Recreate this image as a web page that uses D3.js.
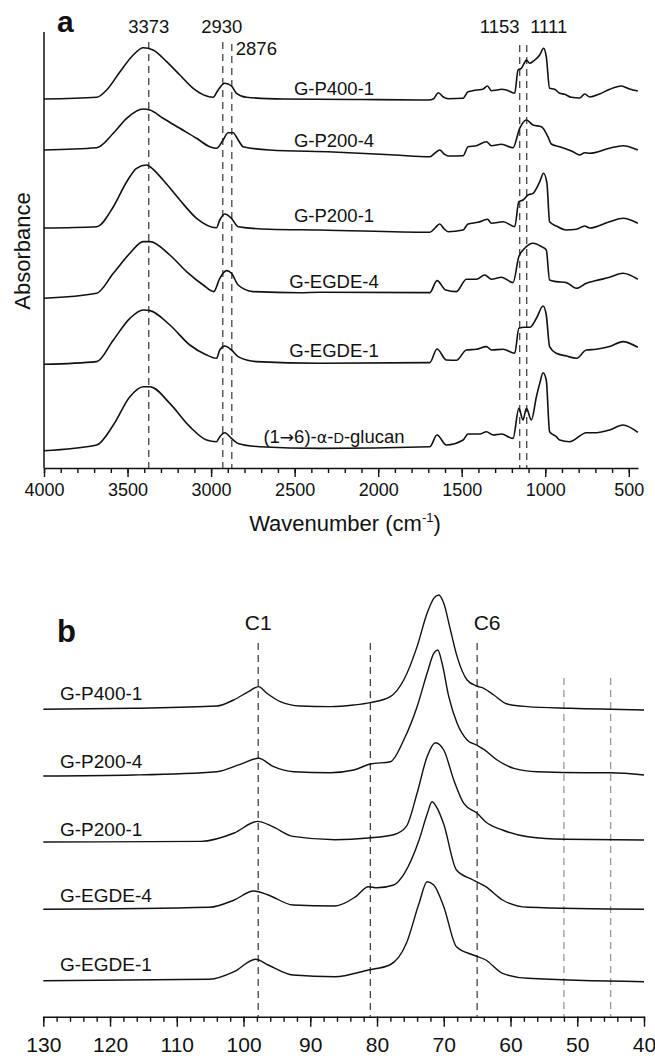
<!DOCTYPE html>
<html><head><meta charset="utf-8">
<script src="https://cdn.jsdelivr.net/npm/d3@7"></script>
<style>
html,body{margin:0;padding:0;background:#fff;}
svg{display:block;font-family:"Liberation Sans",Arial,sans-serif;}
</style></head>
<body>
<svg id="chart" width="655" height="1058"></svg>
<script>
// ---------------- Panel a: FTIR (wavenumber cm-1, absorbance a.u. above each baseline) -------------
const ftirNames = ["G-P400-1","G-P200-4","G-P200-1","G-EGDE-4","G-EGDE-1","glucan"];
const ftirOffsets = [369, 318, 240, 169.7, 103.7, 17.3];
const ftirP400_1 = [[4000,0],[3685,1.7],[3625,9],[3545,27.3],[3466,44],[3406,51.3],[3347,49],[3266,37.3],[3187,24],[3107,10.7],[3027,3],[2988,1.7],[2958,9],[2918,15.7],[2878,13],[2848,5.7],[2788,1.7],[2569,0],[2100,-0.5],[1700,-1],[1670,0],[1640,6.3],[1610,2],[1582,0.3],[1492,0.7],[1462,7.3],[1440,8],[1412,9],[1374,9.7],[1346,13],[1322,8.3],[1290,9],[1262,9.7],[1233,9],[1183,5.7],[1163,29],[1143,30.7],[1125,36],[1113,39],[1093,35.7],[1063,39],[1033,44],[1010,50.7],[994,42.3],[974,10.7],[944,9.7],[914,5.7],[884,4.7],[844,1.7],[794,1],[764,5],[734,2],[675,5],[615,9.7],[545,13],[495,10],[446,8]];
const ftirP200_4 = [[4000,0],[3685,2.3],[3585,16.7],[3505,31.7],[3406,41],[3366,40],[3287,31.7],[3187,21.7],[3087,11.7],[3008,3.3],[2968,1.7],[2928,10],[2898,17.3],[2868,17.3],[2838,10],[2808,3.3],[2650,0],[2270,-2],[1900,-5],[1691,-6.7],[1660,-3],[1632,0],[1605,-4],[1582,-6],[1492,-5.7],[1462,3.3],[1412,4.3],[1352,8.3],[1322,4.3],[1262,5.7],[1193,2.3],[1153,21.7],[1113,30],[1073,25],[1023,23.3],[984,13.3],[964,6],[914,3.3],[834,-1.7],[794,-5],[764,-2.7],[734,-3.3],[615,1.7],[535,4.3],[446,0]];
const ftirP200_1 = [[4000,0],[3685,1.3],[3585,21.3],[3505,46.3],[3446,59.7],[3386,63],[3366,61.3],[3287,48],[3187,28],[3087,9.7],[2968,0.3],[2948,8],[2918,14],[2878,9.7],[2838,1.3],[2650,-1.3],[2349,-2],[1691,-4.3],[1660,0],[1632,4],[1605,-1],[1582,-3.7],[1492,-2],[1462,4],[1402,5.7],[1346,8.7],[1322,4.7],[1252,6.3],[1183,1.3],[1158,26.3],[1133,28],[1103,33],[1073,34.7],[1033,46.3],[1010,54.7],[990,44.7],[974,6.3],[934,2],[874,-2],[814,-1.3],[764,2],[734,0],[615,6.3],[535,9.7],[446,4.7]];
const ftirEGDE_4 = [[4000,0],[3685,5],[3585,25],[3486,45],[3406,56.7],[3366,56.7],[3247,43.3],[3147,26.7],[3047,13.3],[2984,6.7],[2948,20],[2908,27.7],[2878,25],[2838,13.3],[2749,6.7],[2470,5.5],[2349,6],[1691,5.7],[1648,17.7],[1596,8.3],[1532,6.7],[1472,19],[1412,19],[1362,23.3],[1322,19],[1262,21],[1193,15.7],[1158,41.7],[1123,50],[1073,55],[1023,51.7],[994,48.3],[974,18.3],[934,16.7],[874,15.7],[814,10],[754,15],[695,17.7],[615,21],[535,25],[446,19]];
const ftirEGDE_1 = [[4000,0],[3685,2.7],[3585,24.3],[3486,46],[3406,54.3],[3366,53.7],[3247,39.3],[3127,19.3],[3027,9.3],[2968,6],[2948,14.3],[2918,18.3],[2878,14.3],[2838,7.7],[2729,2.7],[2349,1],[1691,1.7],[1648,15.3],[1592,4.3],[1532,4],[1472,14.3],[1412,15],[1352,17.7],[1322,14.3],[1252,15],[1183,11],[1158,36],[1123,37],[1093,37],[1053,46],[1013,58.3],[994,49.3],[974,17.7],[934,11],[874,8.3],[814,6],[754,14.3],[695,15],[615,17.7],[535,22.7],[446,17]];
const ftirGlucan = [[4000,0],[3685,5.7],[3585,25.7],[3486,54],[3406,64],[3366,64],[3247,47.3],[3127,24],[3027,10.7],[2968,9],[2948,14],[2918,18],[2878,12.3],[2838,7.3],[2709,4],[2349,2.3],[1691,4],[1648,15.7],[1592,5.7],[1492,10.7],[1462,16.7],[1392,16.7],[1352,19],[1312,15.7],[1262,16.7],[1193,12.3],[1158,42.3],[1133,30.7],[1113,42.3],[1083,30.7],[1053,54],[1033,67.3],[1013,78],[994,70.7],[974,19],[934,14],[914,10.7],[854,9],[754,18],[695,18],[615,20.7],[535,25.7],[446,18.3]];
const ftirSeries = [ftirP400_1, ftirP200_4, ftirP200_1, ftirEGDE_4, ftirEGDE_1, ftirGlucan];
const ftirBands = [3373, 2930, 2876, 1153, 1111];
const ftirTicks = [4000, 3500, 3000, 2500, 2000, 1500, 1000, 500];

// ---------------- Panel b: 13C NMR (ppm, intensity above each baseline) -------------
const nmrNames = ["G-P400-1","G-P200-4","G-P200-1","G-EGDE-4","G-EGDE-1"];
const nmrOffsets = [308.4, 241.7, 174.7, 107.4, 36];
const nmrP400_1 = [[130,-1],[116.5,0],[104,2.3],[101.5,8.3],[99.25,16.7],[97.75,21.7],[96.5,15],[94.5,6.7],[91.5,2.3],[87,1.7],[83.5,3.3],[81,5.7],[78,11.7],[76,28.3],[74,61.7],[72.5,95],[71.5,110],[70.75,113.3],[70,105],[69,78.3],[68,51.7],[66.5,28.3],[65.1,22.3],[64,20],[62.5,13.3],[60.5,4.3],[57.5,1.7],[51,0],[40,-1.7]];
const nmrP200_4 = [[130,-1],[116.5,0],[104,3.3],[100.5,10.7],[97.75,16.7],[95.5,8.3],[92.5,3.3],[87,2.3],[83.5,5],[81,11],[78,13.3],[76,35],[74,68.3],[72.5,101.7],[71.5,121.7],[70.9,125],[70.25,111.7],[69.25,78.3],[68,51.7],[66.5,35],[65.1,30],[64,25.7],[62,15],[59.5,6.7],[56,3.3],[48.5,2.3],[45,2.3],[40,0]];
const nmrP200_1 = [[130,0],[106.4,0.6],[101.4,9],[97.9,20.6],[95.7,15.6],[92.6,5.6],[86.3,2.3],[81.3,4],[77.5,7.3],[75.6,15.6],[74,48.7],[72.5,85.3],[71.25,99.3],[70,92],[68.5,62],[67,38.7],[65,28.7],[63.7,20],[61.2,12],[57.4,5.3],[51.8,2.7],[40,2]];
const nmrEGDE_4 = [[130,0],[105.1,2],[101.4,9.3],[98.5,18.3],[96.3,14.3],[92.6,4.3],[86.3,3.3],[83.2,12.6],[81.3,22.6],[80,21.5],[77.5,24.3],[75.9,36],[73.7,69.3],[72.5,95],[71.75,107.6],[70.9,100],[70,85],[68.1,39.3],[65.6,29.3],[63.7,22.6],[61.2,9.3],[57.4,2],[40,0]];
const nmrEGDE_1 = [[130,0],[105.1,1.4],[101.4,9],[98.2,21.4],[96.3,15.7],[92.6,5.7],[86.3,4],[81.3,10.7],[78.1,15.7],[75.6,37.4],[73.7,77.4],[72.5,99],[71.5,95.7],[70,74],[68.1,34],[65.6,25.7],[63.7,20.7],[61.2,7.4],[57.4,2.4],[40,-1]];
const nmrSeries = [nmrP400_1, nmrP200_4, nmrP200_1, nmrEGDE_4, nmrEGDE_1];
const nmrMarkers = [97.8, 81, 65, 52, 45];
const nmrMarkerLabels = ["C1", "", "C6", "", ""];
const nmrMarkerGray = [false, false, false, true, true];
const nmrTicks = [130, 120, 110, 100, 90, 80, 70, 60, 50, 40];

// ---------------- drawing -------------
const svg = d3.select("#chart");
const FONT = "Liberation Sans, Arial, sans-serif";

// Panel a scales
const xA = d3.scaleLinear().domain([4000, 445]).range([44, 638]);
const yA = d3.scaleLinear().domain([0, 436]).range([468, 32]);
const gA = svg.append("g");

// band dashed lines
const bandTop = [42, 42, 44, 45, 45];
ftirBands.forEach((b, i) => {
  gA.append("line").attr("x1", xA(b)).attr("x2", xA(b)).attr("y1", bandTop[i]).attr("y2", 468)
    .attr("stroke", "#444").attr("stroke-width", 1.3).attr("stroke-dasharray", "7,5");
});
// band labels
const bandLabelPos = [
  {v:3373, anchor:"middle", dx:0, y:33},
  {v:2930, anchor:"middle", dx:-1, y:33},
  {v:2876, anchor:"start", dx:4, y:55},
  {v:1153, anchor:"middle", dx:-20, y:33},
  {v:1111, anchor:"middle", dx:22, y:33}
];
bandLabelPos.forEach(d => {
  gA.append("text").attr("x", xA(d.v) + d.dx).attr("y", d.y).attr("text-anchor", d.anchor)
    .attr("font-size", 18.5).attr("fill", "#111").text(String(d.v));
});

const lineA = (off) => d3.line().x(d => xA(d[0])).y(d => yA(d[1] + off)).curve(d3.curveMonotoneX);
ftirSeries.forEach((s, i) => {
  gA.append("path").attr("d", lineA(ftirOffsets[i])(s)).attr("fill", "none")
    .attr("stroke", "#111").attr("stroke-width", 1.6).attr("stroke-linejoin", "round");
});

// series labels panel a
const labelBaseA = [95, 147, 222, 288, 357, 443];
ftirNames.forEach((n, i) => {
  const t = gA.append("text").attr("x", 334).attr("y", labelBaseA[i]).attr("text-anchor", "middle")
    .attr("font-size", 18.5).attr("fill", "#111");
  if (n === "glucan") {
    t.append("tspan").text("(1");
    t.append("tspan").attr("font-family", "DejaVu Sans").attr("font-size", 17).text("\u2192");
    t.append("tspan").text("6)-");
    t.append("tspan").attr("font-family", "DejaVu Sans").attr("font-size", 16).text("\u03b1");
    t.append("tspan").text("-");
    t.append("tspan").attr("font-size", 14.5).text("D");
    t.append("tspan").text("-glucan");
  } else t.text(n);
});

// y axis line
gA.append("line").attr("x1", 44).attr("x2", 44).attr("y1", 32).attr("y2", 468)
  .attr("stroke", "#111").attr("stroke-width", 1.5);

// x axis panel a
const minorA = d3.range(4000, 449, -100);
const axMinA = gA.append("g").attr("transform", "translate(0,468)")
  .call(d3.axisBottom(xA).tickValues(minorA).tickSize(5).tickFormat(""));
axMinA.select(".domain").remove();
const axA = gA.append("g").attr("transform", "translate(0,468)")
  .call(d3.axisBottom(xA).tickValues(ftirTicks).tickSize(9).tickSizeOuter(0).tickPadding(6).tickFormat(d3.format("d")));
[axMinA, axA].forEach(a => a.selectAll("line").attr("stroke", "#111").attr("stroke-width", 1.4));
axA.select(".domain").attr("stroke", "#111").attr("stroke-width", 1.6);
axA.selectAll("text").attr("font-size", 18).attr("font-family", FONT).attr("fill", "#111");

// axis titles
const xt = gA.append("text").attr("x", 345).attr("y", 531).attr("text-anchor", "middle")
  .attr("font-size", 22).attr("fill", "#111");
xt.append("tspan").text("Wavenumber (cm");
xt.append("tspan").attr("font-size", 13).attr("dy", -9).text("-1");
xt.append("tspan").attr("dy", 9).text(")");
gA.append("text").attr("transform", "translate(30,251) rotate(-90)").attr("text-anchor", "middle")
  .attr("font-size", 22).attr("fill", "#111").text("Absorbance");
gA.append("text").attr("x", 57).attr("y", 32).attr("font-size", 30).attr("font-weight", "bold")
  .attr("fill", "#111").text("a");

// Panel b scales
const xB = d3.scaleLinear().domain([130, 40]).range([43.3, 644]);
const yB = d3.scaleLinear().domain([0, 373.4]).range([1016.7, 643.3]);
const gB = svg.append("g");

nmrMarkers.forEach((m, i) => {
  gB.append("line").attr("x1", xB(m)).attr("x2", xB(m)).attr("y1", nmrMarkerGray[i] ? 678 : 643).attr("y2", 1016.7)
    .attr("stroke", nmrMarkerGray[i] ? "#999" : "#444").attr("stroke-width", 1.3).attr("stroke-dasharray", "7,5");
  if (nmrMarkerLabels[i]) {
    gB.append("text").attr("x", xB(m) + (i === 0 ? 0 : 10)).attr("y", 630).attr("text-anchor", "middle")
      .attr("font-size", 21).attr("fill", "#111").text(nmrMarkerLabels[i]);
  }
});

const lineB = (off) => d3.line().x(d => xB(d[0])).y(d => yB(d[1] + off)).curve(d3.curveMonotoneX);
nmrSeries.forEach((s, i) => {
  gB.append("path").attr("d", lineB(nmrOffsets[i])(s)).attr("fill", "none")
    .attr("stroke", "#111").attr("stroke-width", 1.4).attr("stroke-linejoin", "round");
});

const labelBaseB = [700, 768, 836, 902, 971];
nmrNames.forEach((n, i) => {
  gB.append("text").attr("x", 60).attr("y", labelBaseB[i]).attr("font-size", 19).attr("fill", "#111").text(n);
});

const minorB = d3.range(130, 39, -2);
const axMinB = gB.append("g").attr("transform", "translate(0,1016.7)")
  .call(d3.axisBottom(xB).tickValues(minorB).tickSize(5).tickFormat(""));
axMinB.select(".domain").remove();
const axB = gB.append("g").attr("transform", "translate(0,1016.7)")
  .call(d3.axisBottom(xB).tickValues(nmrTicks).tickSize(10).tickSizeOuter(0).tickPadding(10).tickFormat(d3.format("d")));
[axMinB, axB].forEach(a => a.selectAll("line").attr("stroke", "#111").attr("stroke-width", 1.4));
axB.select(".domain").attr("stroke", "#111").attr("stroke-width", 1.6);
axB.selectAll("text").attr("font-size", 21).attr("font-family", FONT).attr("fill", "#111");

gB.append("text").attr("x", 57).attr("y", 642).attr("font-size", 31).attr("font-weight", "bold")
  .attr("fill", "#111").text("b");
</script>
</body></html>
